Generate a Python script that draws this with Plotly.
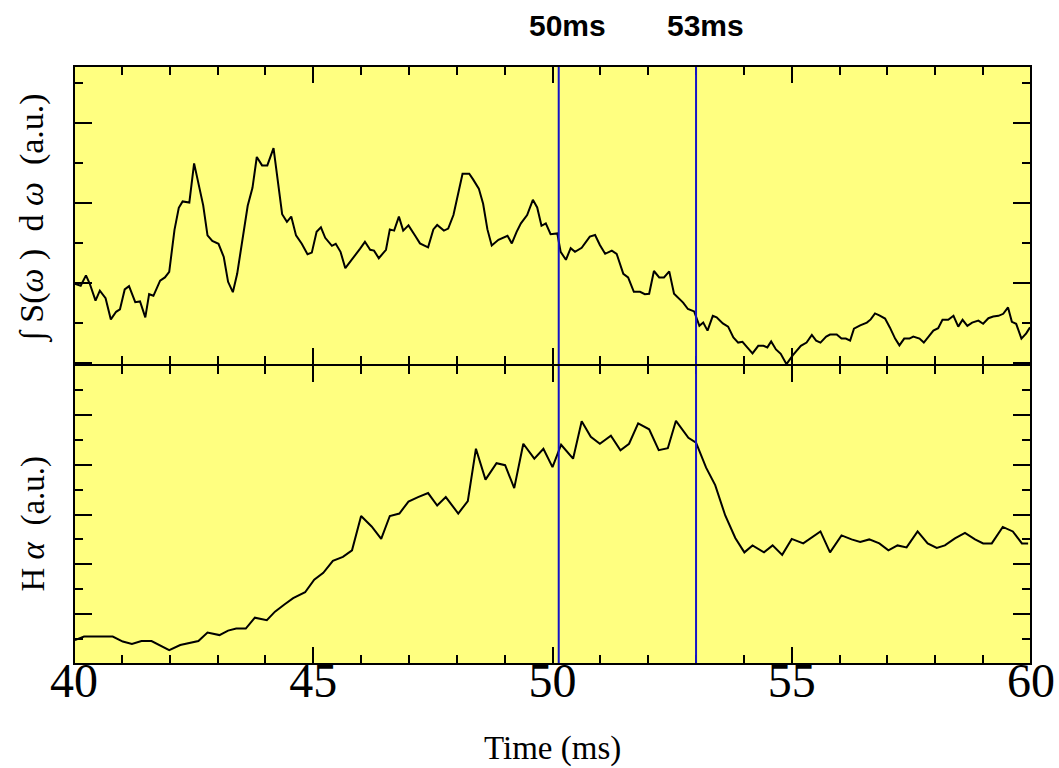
import plotly.graph_objects as go
from plotly.subplots import make_subplots

# ---- data ----
t_spec = [40.02, 40.14, 40.25, 40.33, 40.45, 40.54, 40.66, 40.77, 40.88, 40.96, 41.06, 41.15, 41.28, 41.38,
          41.49, 41.57, 41.66, 41.80, 41.90, 41.99, 42.10, 42.19, 42.27, 42.41, 42.51, 42.70, 42.79, 42.89,
          43.02, 43.13, 43.22, 43.32, 43.41, 43.52, 43.63, 43.73, 43.82, 43.93, 44.04, 44.17, 44.35, 44.45,
          44.54, 44.64, 44.76, 44.88, 44.97, 45.07, 45.16, 45.25, 45.39, 45.47, 45.57, 45.67, 45.84, 45.98,
          46.08, 46.19, 46.27, 46.37, 46.52, 46.60, 46.69, 46.79, 46.88, 46.99, 47.13, 47.23, 47.40, 47.51,
          47.59, 47.73, 47.82, 47.93, 48.12, 48.26, 48.34, 48.46, 48.55, 48.64, 48.73, 48.87, 49.06, 49.15,
          49.25, 49.34, 49.47, 49.59, 49.68, 49.77, 49.86, 49.96, 50.10, 50.17, 50.28, 50.38, 50.47, 50.61,
          50.78, 50.89, 50.99, 51.10, 51.24, 51.34, 51.48, 51.58, 51.70, 51.83, 51.93, 52.02, 52.12, 52.23,
          52.33, 52.44, 52.54, 52.66, 52.73, 52.83, 52.96, 53.07, 53.15, 53.24, 53.35, 53.43, 53.56, 53.67,
          53.78, 53.88, 53.97, 54.07, 54.18, 54.30, 54.41, 54.49, 54.57, 54.67, 54.77, 54.89, 55.02, 55.19,
          55.31, 55.42, 55.51, 55.60, 55.72, 55.80, 55.94, 56.04, 56.13, 56.22, 56.30, 56.43, 56.57, 56.65,
          56.74, 56.83, 56.95, 57.05, 57.16, 57.25, 57.35, 57.46, 57.54, 57.67, 57.76, 57.86, 57.96, 58.06,
          58.15, 58.27, 58.38, 58.48, 58.57, 58.67, 58.77, 58.90, 59.00, 59.11, 59.21, 59.32, 59.42, 59.52,
          59.60, 59.69, 59.80, 59.90, 59.98]
spec_int = [1.98, 1.93, 2.19, 1.98, 1.56, 1.81, 1.62, 1.09, 1.28, 1.34, 1.84, 1.92, 1.52, 1.54,
            1.14, 1.72, 1.68, 2.06, 2.14, 2.28, 3.33, 3.88, 4.04, 4.01, 4.99, 3.94, 3.19, 3.05,
            2.98, 2.65, 2.03, 1.77, 2.23, 3.14, 3.93, 4.38, 5.15, 4.94, 4.94, 5.37, 3.72, 3.53,
            3.66, 3.19, 2.98, 2.72, 2.76, 3.28, 3.39, 3.13, 2.93, 2.98, 2.78, 2.37, 2.63, 2.86,
            3.03, 2.83, 2.81, 2.62, 2.83, 3.34, 3.31, 3.66, 3.31, 3.44, 3.18, 2.99, 2.89, 3.34,
            3.45, 3.31, 3.36, 3.70, 4.73, 4.73, 4.59, 4.36, 3.98, 3.34, 2.94, 3.08, 3.18, 2.99,
            3.28, 3.49, 3.70, 4.08, 3.89, 3.43, 3.49, 3.22, 3.24, 2.78, 2.58, 2.87, 2.78, 2.88,
            3.16, 3.20, 2.95, 2.73, 2.81, 2.73, 2.23, 2.14, 1.78, 1.78, 1.72, 1.73, 2.30, 2.14,
            2.14, 2.29, 1.73, 1.60, 1.51, 1.35, 1.29, 0.93, 1.01, 0.81, 1.18, 1.14, 0.99, 0.91,
            0.64, 0.51, 0.53, 0.39, 0.24, 0.43, 0.43, 0.39, 0.54, 0.34, 0.23, -0.03, 0.19, 0.43,
            0.51, 0.70, 0.56, 0.51, 0.66, 0.71, 0.71, 0.61, 0.61, 0.56, 0.86, 0.94, 1.01, 1.09,
            1.24, 1.19, 1.11, 0.89, 0.61, 0.44, 0.61, 0.61, 0.66, 0.61, 0.51, 0.66, 0.81, 0.87,
            1.08, 1.08, 1.18, 0.91, 1.08, 0.93, 1.01, 1.06, 0.98, 1.12, 1.16, 1.18, 1.23, 1.39,
            1.03, 0.98, 0.61, 0.74, 0.89]

t_ha = [40.02, 40.21, 40.81, 41.02, 41.21, 41.41, 41.62, 41.80, 41.99, 42.22, 42.39, 42.60, 42.79, 43.04,
        43.22, 43.39, 43.59, 43.78, 44.03, 44.20, 44.39, 44.58, 44.83, 45.02, 45.21, 45.41, 45.62, 45.81,
        46.00, 46.22, 46.42, 46.60, 46.80, 46.99, 47.19, 47.40, 47.59, 47.77, 48.03, 48.23, 48.40, 48.60,
        48.83, 49.01, 49.20, 49.39, 49.62, 49.81, 50.00, 50.18, 50.43, 50.61, 50.80, 50.99, 51.22, 51.42,
        51.60, 51.79, 52.02, 52.22, 52.41, 52.58, 52.84, 53.00, 53.21, 53.40, 53.61, 53.82, 54.01, 54.18,
        54.42, 54.60, 54.80, 55.00, 55.24, 55.60, 55.80, 56.04, 56.25, 56.43, 56.62, 56.83, 57.02, 57.21,
        57.40, 57.63, 57.84, 58.03, 58.20, 58.41, 58.62, 58.83, 59.00, 59.18, 59.41, 59.62, 59.81, 59.94]
h_alpha = [0.48, 0.55, 0.55, 0.45, 0.40, 0.46, 0.46, 0.37, 0.28, 0.38, 0.42, 0.46, 0.63, 0.58,
           0.67, 0.71, 0.71, 0.93, 0.88, 1.05, 1.19, 1.32, 1.44, 1.69, 1.83, 2.07, 2.15, 2.28,
           2.97, 2.76, 2.51, 2.97, 3.02, 3.26, 3.35, 3.43, 3.18, 3.35, 3.02, 3.27, 4.32, 3.70,
           4.03, 3.99, 3.53, 4.42, 4.12, 4.32, 3.95, 4.40, 4.12, 4.87, 4.56, 4.42, 4.58, 4.29,
           4.42, 4.83, 4.71, 4.29, 4.33, 4.88, 4.54, 4.44, 3.94, 3.59, 2.98, 2.53, 2.24, 2.38,
           2.24, 2.38, 2.19, 2.51, 2.42, 2.66, 2.24, 2.58, 2.50, 2.45, 2.50, 2.42, 2.28, 2.38,
           2.34, 2.66, 2.42, 2.33, 2.38, 2.52, 2.63, 2.50, 2.42, 2.42, 2.75, 2.66, 2.42, 2.42]

event_times = [50.13, 53.0]
event_labels = ["50ms", "53ms"]
x_ticks = [40, 45, 50, 55, 60]

# ---- figure ----
fig = make_subplots(rows=2, cols=1, shared_xaxes=True, vertical_spacing=0)
fig.add_trace(go.Scatter(x=t_spec, y=spec_int, mode="lines",
                         line=dict(color="black", width=2), showlegend=False), row=1, col=1)
fig.add_trace(go.Scatter(x=t_ha, y=h_alpha, mode="lines",
                         line=dict(color="black", width=2), showlegend=False), row=2, col=1)

for t in event_times:
    fig.add_shape(type="line", xref="x", yref="paper", x0=t, x1=t, y0=0, y1=1,
                  line=dict(color="#1414C8", width=2), layer="above")

# frame and middle divider
fig.add_shape(type="rect", xref="paper", yref="paper", x0=0, x1=1, y0=0, y1=1,
              line=dict(color="black", width=2), layer="above")
fig.add_shape(type="line", xref="paper", yref="paper", x0=0, x1=1, y0=0.5, y1=0.5,
              line=dict(color="black", width=2), layer="above")

L, R, T, B = 74, 28, 66, 104
W, H = 1059, 768
pw = W - L - R
for t, lab in zip(event_times, event_labels):
    fig.add_annotation(x=t, xref="x", y=1, yref="paper", yanchor="middle", yshift=41,
                       text="<b>" + lab + "</b>", showarrow=False, xshift=9,
                       font=dict(family="Liberation Sans", size=30, color="black"))

axis_common = dict(showline=False, mirror="ticks", automargin=False,
                   ticks="inside", tickcolor="black", tickwidth=1.5, showgrid=False, zeroline=False)

fig.update_xaxes(range=[40, 60], dtick=5, tick0=40, ticklen=17,
                 minor=dict(dtick=1, ticklen=9, ticks="inside", tickcolor="black", tickwidth=1.5),
                 **axis_common)
fig.update_xaxes(showticklabels=False, row=1, col=1)
fig.update_xaxes(showticklabels=True, tickvals=x_ticks, row=2, col=1, ticklabelstandoff=-16,
                 tickfont=dict(family="Liberation Serif", size=48, color="black"))

fig.update_yaxes(showticklabels=False, **axis_common)
fig.update_yaxes(range=[-0.05, 7.425], dtick=2, tick0=0, ticklen=18,
                 minor=dict(dtick=1, ticklen=9, ticks="inside", tickcolor="black", tickwidth=1.5),
                 row=1, col=1)
fig.update_yaxes(range=[0, 6], dtick=1, tick0=0, ticklen=18,
                 minor=dict(dtick=0.5, ticklen=9, ticks="inside", tickcolor="black", tickwidth=1.5),
                 row=2, col=1)

nb = "\u00a0"
fig.add_annotation(xref="paper", yref="paper", x=-41 / pw, xanchor="center", yanchor="middle",
                   y=0.745,
                   text="∫" + nb + "S(<i>ω</i>" + nb + ")" + nb * 2 + "d" + nb + "<i>ω</i>" + nb * 2 + "(a.u.)",
                   textangle=-90, showarrow=False,
                   font=dict(family="Liberation Serif", size=34, color="black"))
fig.add_annotation(xref="paper", yref="paper", x=-41 / pw, xanchor="center", yanchor="middle",
                   y=0.235, text="H" + nb + "<i>α</i>" + nb * 2 + "(a.u.)",
                   textangle=-90, showarrow=False,
                   font=dict(family="Liberation Serif", size=33, color="black"))
fig.add_annotation(xref="paper", yref="paper", x=0.5, y=0, yshift=-84, yanchor="middle",
                   text="Time (ms)", showarrow=False,
                   font=dict(family="Liberation Serif", size=33, color="black"))

fig.update_layout(width=W, height=H, margin=dict(l=L, r=R, t=T, b=B),
                  plot_bgcolor="#FFFF80", paper_bgcolor="white")

fig.write_html("out.html")
